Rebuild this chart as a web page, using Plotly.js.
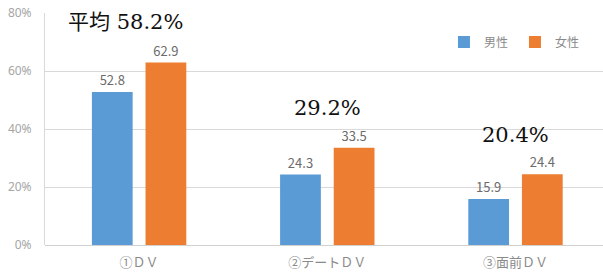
<!DOCTYPE html>
<html><head><meta charset="utf-8">
<script src="https://cdn.plot.ly/plotly-3.0.1.min.js"></script>
<style>html,body{margin:0;padding:0;background:#fff}</style>
</head><body><div id="chart" style="width:603px;height:276px"></div>
<script>
const categories = ['①ＤＶ', '②デートＤＶ', '③面前ＤＶ'];
const male = [52.8, 24.3, 15.9];
const female = [62.9, 33.5, 24.4];
const averages = ['平均 58.2%', '29.2%', '20.4%'];
const avgPos = [[-0.07, 77], [1.0, 47.2], [2.0, 37.9]];
const yTicks = [0, 20, 40, 60, 80];

const tfont = {family: 'Noto Sans CJK JP, Noto Sans, sans-serif', size: 13, color: '#6b6b6b'};
const traces = [
  {type: 'bar', name: '男性', x: categories, y: male, marker: {color: '#5b9bd5'},
   text: male.map(v => v.toFixed(1)), textposition: 'outside', textfont: tfont, cliponaxis: false},
  {type: 'bar', name: '女性', x: categories, y: female, marker: {color: '#ed7d31'},
   text: female.map(v => v.toFixed(1)), textposition: 'outside', textfont: tfont, cliponaxis: false}
];
const layout = {
  width: 603, height: 276,
  margin: {l: 45, r: 0, t: 13, b: 31, autoexpand: false},
  paper_bgcolor: '#fff', plot_bgcolor: '#fff',
  barmode: 'group', bargap: 0.43, bargroupgap: 0.24,
  showlegend: true,
  legend: {orientation: 'h', x: 0.715, y: 0.875, xanchor: 'left', yanchor: 'middle',
           font: {family: 'Noto Sans CJK JP, sans-serif', size: 12, color: '#8a8a8a'},
           entrywidth: 26, itemwidth: 30, tracegroupgap: 0, bgcolor: 'rgba(0,0,0,0)'},
  xaxis: {type: 'category', range: [-0.5, 2.465], autorange: false, showgrid: false, zeroline: false,
          showline: false, ticks: '', ticklabelstandoff: 8,
          tickfont: {family: 'Noto Sans CJK JP, sans-serif', size: 13, color: '#8a8a8a'}},
  yaxis: {range: [0, 80], autorange: false, tickvals: yTicks, ticktext: yTicks.map(v => v + '%'),
          showgrid: true, gridcolor: '#d9d9d9', gridwidth: 1, zeroline: true, zerolinecolor: '#d0d0d0',
          showline: true, linecolor: '#d9d9d9', ticks: '', ticklabelstandoff: 10,
          tickfont: {family: 'Noto Sans, sans-serif', size: 12, color: '#a6a6a6'}},
  annotations: averages.map((t, i) => ({
    text: t, x: avgPos[i][0], y: avgPos[i][1], xref: 'x', yref: 'y', showarrow: false,
    font: {family: 'DejaVu Serif, Noto Sans CJK JP', size: 21, color: '#111'}
  }))
};
Plotly.newPlot('chart', traces, layout, {displayModeBar: false, staticPlot: true});
</script></body></html>
